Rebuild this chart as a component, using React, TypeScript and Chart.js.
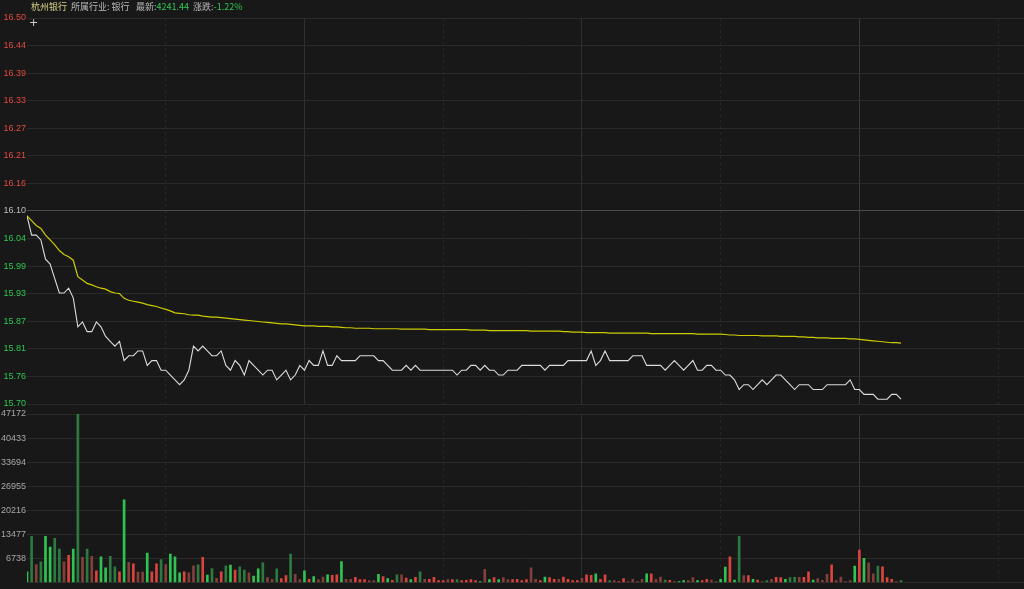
import React, { useEffect, useRef } from "react";
import { Chart, registerables } from "chart.js";

Chart.register(...registerables);

const BG = "#181818";
const FONT = "'Liberation Sans', Arial, 'Noto Sans CJK SC', sans-serif";

// price axis tick labels (ascending); index 7 is the previous close
const priceTickLabels = ["15.70", "15.76", "15.81", "15.87", "15.93", "15.99", "16.04", "16.10", "16.16", "16.21", "16.27", "16.33", "16.39", "16.44", "16.50"];
const PRICE_MIN = 15.7;
const PRICE_MAX = 16.5;

// volume axis tick labels (ascending, first is the zero line)
const volumeTickLabels = ["", "6738", "13477", "20216", "26955", "33694", "40433", "47172"];
const VOLUME_MAX = 47172;

// minutes shown on the x axis; vertical grid every 30 minutes
const X_MAX = 215.6;
const gridMinutes = [30, 60, 90, 120, 150, 180, 210];

// minute prices (white line)
const prices = [
  16.09, 16.05, 16.05, 16.04, 16.0, 15.99, 15.96, 15.93, 15.93, 15.94,
  15.92, 15.86, 15.87, 15.85, 15.85, 15.87, 15.86, 15.84, 15.83, 15.82,
  15.83, 15.79, 15.8, 15.8, 15.81, 15.81, 15.78, 15.79, 15.79, 15.77,
  15.77, 15.76, 15.75, 15.74, 15.75, 15.77, 15.82, 15.81, 15.82, 15.81,
  15.8, 15.8, 15.81, 15.78, 15.77, 15.79, 15.78, 15.76, 15.79, 15.78,
  15.77, 15.76, 15.77, 15.77, 15.75, 15.76, 15.77, 15.75, 15.76, 15.78,
  15.77, 15.79, 15.78, 15.78, 15.81, 15.78, 15.78, 15.8, 15.79, 15.79,
  15.79, 15.79, 15.8, 15.8, 15.8, 15.8, 15.79, 15.79, 15.78, 15.77,
  15.77, 15.77, 15.78, 15.77, 15.78, 15.77, 15.77, 15.77, 15.77, 15.77,
  15.77, 15.77, 15.77, 15.76, 15.77, 15.77, 15.78, 15.78, 15.77, 15.78,
  15.77, 15.77, 15.76, 15.76, 15.77, 15.77, 15.77, 15.78, 15.78, 15.78,
  15.78, 15.78, 15.77, 15.78, 15.78, 15.78, 15.78, 15.79, 15.79, 15.79,
  15.79, 15.79, 15.81, 15.78, 15.79, 15.81, 15.79, 15.79, 15.79, 15.79,
  15.79, 15.8, 15.8, 15.8, 15.78, 15.78, 15.78, 15.78, 15.77, 15.78,
  15.79, 15.78, 15.77, 15.78, 15.79, 15.77, 15.77, 15.78, 15.78, 15.77,
  15.77, 15.76, 15.76, 15.75, 15.73, 15.74, 15.74, 15.73, 15.74, 15.75,
  15.74, 15.75, 15.76, 15.76, 15.75, 15.74, 15.73, 15.74, 15.74, 15.74,
  15.73, 15.73, 15.73, 15.74, 15.74, 15.74, 15.74, 15.74, 15.75, 15.73,
  15.73, 15.72, 15.72, 15.72, 15.71, 15.71, 15.71, 15.72, 15.72, 15.71,
];

// average price (yellow line)
const avgPrices = [
  16.09, 16.08, 16.07, 16.064, 16.05, 16.04, 16.03, 16.018, 16.01, 16.005,
  15.998, 15.964, 15.957, 15.95, 15.947, 15.943, 15.94, 15.938, 15.933, 15.93,
  15.929, 15.919, 15.915, 15.913, 15.911, 15.909, 15.906, 15.904, 15.902, 15.899,
  15.896, 15.893, 15.889, 15.888, 15.887, 15.885, 15.884, 15.884, 15.882, 15.881,
  15.88, 15.88, 15.879, 15.878, 15.877, 15.876, 15.875, 15.874, 15.873, 15.872,
  15.871, 15.87, 15.869, 15.868, 15.867, 15.866, 15.866, 15.865, 15.864, 15.863,
  15.862, 15.862, 15.862, 15.861, 15.861, 15.861, 15.86, 15.86, 15.859, 15.858,
  15.858, 15.857, 15.857, 15.857, 15.857, 15.856, 15.856, 15.856, 15.856, 15.856,
  15.856, 15.855, 15.855, 15.855, 15.855, 15.855, 15.855, 15.854, 15.854, 15.854,
  15.854, 15.854, 15.854, 15.854, 15.854, 15.854, 15.853, 15.853, 15.853, 15.853,
  15.852, 15.852, 15.852, 15.852, 15.852, 15.852, 15.852, 15.852, 15.852, 15.851,
  15.851, 15.851, 15.851, 15.851, 15.851, 15.851, 15.85, 15.85, 15.849, 15.849,
  15.849, 15.848, 15.848, 15.848, 15.848, 15.848, 15.847, 15.847, 15.847, 15.847,
  15.847, 15.847, 15.847, 15.847, 15.847, 15.846, 15.846, 15.846, 15.846, 15.846,
  15.846, 15.846, 15.846, 15.846, 15.846, 15.845, 15.845, 15.845, 15.845, 15.845,
  15.845, 15.844, 15.843, 15.843, 15.842, 15.842, 15.842, 15.842, 15.842, 15.841,
  15.841, 15.841, 15.841, 15.84, 15.84, 15.84, 15.84, 15.839, 15.839, 15.838,
  15.838, 15.837, 15.837, 15.837, 15.836, 15.836, 15.836, 15.836, 15.835, 15.835,
  15.834, 15.833, 15.832, 15.831, 15.83, 15.829, 15.828, 15.827, 15.827, 15.826,
];

// minute volumes
const volumes = [
  3036, 12972, 5060, 5800, 12972, 9936, 12420, 9384, 5800, 7636,
  9384, 47172, 7084, 9384, 7360, 3312, 7176, 4140, 7360, 4416,
  3036, 23184, 5704, 5244, 2944, 2944, 8280, 3036, 5244, 6440,
  5060, 8004, 7176, 2760, 3036, 2760, 4692, 4968, 7084, 2116,
  3956, 1196, 3036, 4692, 4876, 3496, 4416, 3496, 2760, 1840,
  3864, 5520, 1380, 920, 3864, 1104, 1932, 8004, 2300, 828,
  3312, 920, 1656, 828, 1564, 2208, 2024, 2208, 5888, 920,
  920, 1472, 828, 828, 552, 552, 2300, 1656, 1104, 644,
  2208, 2208, 1288, 828, 1472, 3036, 920, 920, 1472, 552,
  552, 828, 828, 828, 552, 644, 828, 552, 276, 3680,
  828, 1380, 828, 1380, 828, 828, 920, 552, 828, 4140,
  920, 552, 1564, 1380, 920, 920, 1564, 920, 552, 552,
  1196, 2208, 2024, 2484, 920, 2208, 552, 552, 276, 1104,
  276, 920, 276, 920, 2484, 2484, 920, 1564, 736, 644,
  276, 276, 552, 552, 1380, 552, 552, 920, 736, 276,
  920, 4324, 7176, 736, 12972, 1932, 1932, 920, 736, 276,
  552, 920, 1472, 1380, 920, 1380, 1472, 1472, 1472, 3036,
  736, 1104, 644, 2300, 4968, 552, 1564, 276, 552, 4600,
  9108, 6808, 5520, 2484, 4600, 4416, 1380, 920, 276, 552,
];

// bar colour class per minute: R bright red, r dark red, G bright green, g dark green
const volumeKinds = [
  "G", "g", "r", "g", "G", "G", "g", "g", "r", "R",
  "G", "g", "r", "g", "r", "R", "G", "G", "g", "g",
  "R", "G", "r", "R", "r", "r", "G", "R", "R", "g",
  "r", "G", "G", "G", "R", "r", "r", "g", "R", "G",
  "g", "r", "R", "g", "G", "R", "g", "g", "r", "G",
  "G", "g", "r", "r", "g", "R", "R", "g", "r", "r",
  "G", "R", "G", "r", "r", "G", "R", "R", "G", "r",
  "r", "R", "R", "R", "r", "r", "G", "R", "G", "R",
  "g", "r", "R", "G", "R", "g", "r", "R", "R", "R",
  "R", "r", "R", "g", "R", "R", "R", "R", "G", "r",
  "G", "R", "G", "r", "r", "R", "R", "R", "R", "r",
  "r", "R", "G", "R", "R", "r", "R", "R", "R", "R",
  "r", "R", "R", "G", "R", "R", "g", "r", "R", "R",
  "r", "r", "r", "r", "G", "R", "r", "r", "g", "R",
  "r", "G", "G", "r", "r", "G", "R", "R", "r", "r",
  "G", "G", "R", "G", "g", "r", "R", "G", "R", "r",
  "g", "r", "R", "R", "G", "g", "g", "r", "R", "R",
  "G", "r", "r", "r", "R", "r", "r", "r", "r", "G",
  "R", "G", "r", "r", "g", "R", "R", "R", "r", "g",
];

const KIND_COLORS: Record<string, string> = {
  R: "#d9443e",
  r: "#83403b",
  G: "#2ec352",
  g: "#2b7a40",
};

const xScaleOptions = () => ({
  type: "linear" as const,
  min: 0,
  max: X_MAX,
  offset: false,
  afterBuildTicks: (s: any) => {
    s.ticks = gridMinutes.map((v) => ({ value: v }));
  },
  afterFit: (s: any) => {
    s.height = 0;
  },
  ticks: { display: false },
  grid: {
    offset: false,
    drawTicks: false,
    lineWidth: 1,
    color: (ctx: any) => {
      const v = ctx.tick ? ctx.tick.value : 0;
      if (v === 180) return "#3a3a3a";
      if (v === 60 || v === 120) return "#303030";
      return "#262626";
    },
  },
  border: {
    display: false,
    dash: (ctx: any) => {
      const v = ctx.tick ? ctx.tick.value : 0;
      return v % 60 === 0 ? [] : [3, 3];
    },
  },
});

export default function App() {
  const priceRef = useRef<HTMLCanvasElement>(null);
  const volRef = useRef<HTMLCanvasElement>(null);

  useEffect(() => {
    document.body.style.margin = "0";
    document.body.style.background = BG;

    const priceStep = (PRICE_MAX - PRICE_MIN) / (priceTickLabels.length - 1);
    const pc = new Chart(priceRef.current!, {
      type: "line",
      data: {
        datasets: [
          {
            label: "均价",
            data: avgPrices.map((v, i) => ({ x: i, y: v })),
            borderColor: "#cccc00",
            borderWidth: 1.2,
            pointRadius: 0,
            tension: 0,
          },
          {
            label: "价格",
            data: prices.map((v, i) => ({ x: i, y: v })),
            borderColor: "#dcdcdc",
            borderWidth: 1.1,
            pointRadius: 0,
            tension: 0,
          },
        ],
      },
      options: {
        responsive: false,
        animation: false,
        devicePixelRatio: 1,
        layout: { padding: { top: 18, bottom: 10, left: 0, right: 0 } },
        plugins: { legend: { display: false }, tooltip: { enabled: false } },
        scales: {
          x: xScaleOptions(),
          y: {
            type: "linear",
            min: PRICE_MIN,
            max: PRICE_MAX,
            afterBuildTicks: (s: any) => {
              s.ticks = priceTickLabels.map((_, k) => ({ value: PRICE_MIN + k * priceStep }));
            },
            afterFit: (s: any) => {
              s.width = 27;
            },
            ticks: {
              autoSkip: false,
              padding: 1,
              font: { size: 9, family: FONT },
              callback: (_v: any, i: number) => priceTickLabels[i],
              color: (ctx: any) => (ctx.index > 7 ? "#e04a42" : ctx.index < 7 ? "#2fc653" : "#bdbdbd"),
            },
            grid: {
              drawTicks: false,
              color: (ctx: any) => (ctx.index === 7 ? "#4a4a4a" : "#2a2a2a"),
            },
            border: { display: false },
          },
        },
      },
    } as any);

    const volStep = VOLUME_MAX / (volumeTickLabels.length - 1);
    const vc = new Chart(volRef.current!, {
      type: "bar",
      data: {
        datasets: [
          {
            label: "成交量",
            data: volumes.map((v, i) => ({ x: i, y: v })),
            backgroundColor: volumeKinds.map((k) => KIND_COLORS[k]),
            barThickness: 2,
            borderWidth: 0,
          },
        ],
      },
      options: {
        responsive: false,
        animation: false,
        devicePixelRatio: 1,
        layout: { padding: { top: 14, bottom: 4, left: 0, right: 0 } },
        plugins: { legend: { display: false }, tooltip: { enabled: false } },
        scales: {
          x: xScaleOptions(),
          y: {
            type: "linear",
            min: 0,
            max: VOLUME_MAX,
            afterBuildTicks: (s: any) => {
              s.ticks = volumeTickLabels.map((_, k) => ({ value: k * volStep }));
            },
            afterFit: (s: any) => {
              s.width = 27;
            },
            ticks: {
              autoSkip: false,
              padding: 1,
              font: { size: 9, family: FONT },
              color: "#a8a8a8",
              callback: (_v: any, i: number) => volumeTickLabels[i],
            },
            grid: {
              drawTicks: false,
              color: "#2a2a2a",
            },
            border: { display: false },
          },
        },
      },
    } as any);

    return () => {
      pc.destroy();
      vc.destroy();
    };
  }, []);

  const headerStyle: React.CSSProperties = {
    position: "absolute",
    top: 1,
    fontSize: 9,
    lineHeight: "12px",
    fontFamily: "'Noto Sans CJK SC', 'Liberation Sans', sans-serif",
    whiteSpace: "nowrap",
  };

  return (
    <div style={{ position: "relative", width: 1024, height: 589, background: BG, overflow: "hidden" }}>
      <canvas ref={priceRef} width={1024} height={414} style={{ position: "absolute", left: 0, top: 0 }} />
      <canvas ref={volRef} width={1024} height={189} style={{ position: "absolute", left: 0, top: 400 }} />
      <span style={{ ...headerStyle, left: 31, color: "#d9d08a" }}>杭州银行</span>
      <span style={{ ...headerStyle, left: 71, color: "#b9b9b9" }}>所属行业: 银行</span>
      <span style={{ ...headerStyle, left: 136, color: "#b9b9b9" }}>
        最新:<span style={{ color: "#2fc653" }}>4241.44</span>
      </span>
      <span style={{ ...headerStyle, left: 193, color: "#b9b9b9" }}>
        涨跌:<span style={{ color: "#2fc653" }}>-1.22%</span>
      </span>
      <span style={{ ...headerStyle, left: 29, top: 17, fontSize: 11, color: "#d0d0d0", fontFamily: "'DejaVu Sans', sans-serif" }}>+</span>
    </div>
  );
}
